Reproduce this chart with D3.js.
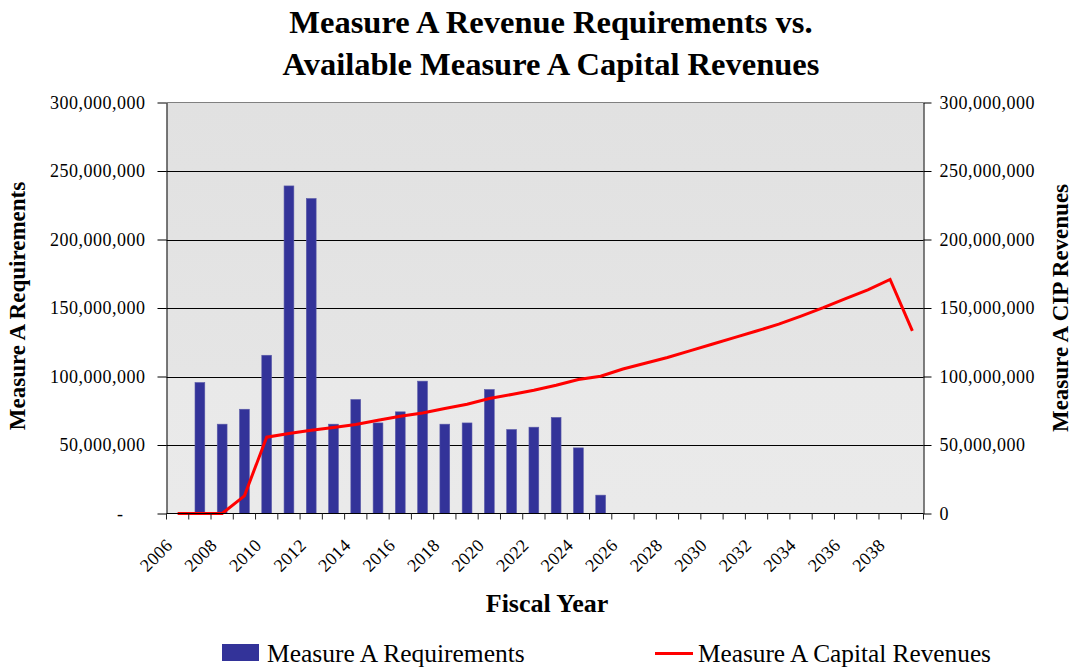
<!DOCTYPE html>
<html>
<head>
<meta charset="utf-8">
<script src="https://cdn.jsdelivr.net/npm/d3@7"></script>
<style>
  html, body { margin: 0; padding: 0; background: #fff; }
  svg { display: block; }
</style>
</head>
<body>
<svg id="chart" width="1072" height="669"></svg>
<script>
// ---------- data ----------
const years = [2006, 2007, 2008, 2009, 2010, 2011, 2012, 2013, 2014, 2015, 2016, 2017,
  2018, 2019, 2020, 2021, 2022, 2023, 2024, 2025, 2026, 2027, 2028, 2029, 2030, 2031,
  2032, 2033, 2034, 2035, 2036, 2037, 2038, 2039];

const xTickLabels = ["2006", "2008", "2010", "2012", "2014", "2016", "2018", "2020", "2022",
  "2024", "2026", "2028", "2030", "2032", "2034", "2036", "2038"];

// Measure A Requirements (bars, left axis)
const requirements = [null, 95600000, 65200000, 76100000, 115500000, 239100000, 229900000,
  65200000, 83200000, 66100000, 74200000, 96600000, 65200000, 66100000, 90500000,
  61300000, 63000000, 70100000, 47900000, 13400000, null, null, null, null, null, null,
  null, null, null, null, null, null, null, null];

// Measure A Capital Revenues (line, right axis)
const capitalRevenues = [0, 0, 0, 12900000, 55700000, 58400000, 60800000, 62800000, 65000000,
  68100000, 71000000, 73400000, 76600000, 79800000, 83900000, 86900000, 90000000, 93600000,
  97800000, 100200000, 105500000, 109700000, 113900000, 118700000, 123500000, 128400000,
  133200000, 138200000, 144100000, 150200000, 156900000, 163300000, 170800000, 133300000];

const yTickValues = [0, 50000000, 100000000, 150000000, 200000000, 250000000, 300000000];
const leftTickLabels = ["-", "50,000,000", "100,000,000", "150,000,000", "200,000,000", "250,000,000", "300,000,000"];
const rightTickLabels = ["0", "50,000,000", "100,000,000", "150,000,000", "200,000,000", "250,000,000", "300,000,000"];

const titleLines = ["Measure A Revenue Requirements vs.", "Available Measure A Capital Revenues"];
const xAxisTitle = "Fiscal Year";
const leftAxisTitle = "Measure A Requirements";
const rightAxisTitle = "Measure A CIP Revenues";
const legendLabels = ["Measure A Requirements", "Measure A Capital Revenues"];

// ---------- layout ----------
const FONT = "'Liberation Serif', 'Times New Roman', serif";
const svg = d3.select("#chart").attr("font-family", FONT);
const plot = { left: 166.5, right: 923.5, top: 102.5, bottom: 513.5 };

const x = d3.scaleBand().domain(years).range([plot.left, plot.right]).padding(0);
const yL = d3.scaleLinear().domain([0, 300000000]).range([plot.bottom, plot.top]);
const yR = d3.scaleLinear().domain([0, 300000000]).range([plot.bottom, plot.top]);

// background gradient
const defs = svg.append("defs");
const grad = defs.append("linearGradient").attr("id", "bg").attr("x1", 0).attr("y1", 0).attr("x2", 0).attr("y2", 1);
grad.append("stop").attr("offset", "0%").attr("stop-color", "#e1e1e1");
grad.append("stop").attr("offset", "66.5%").attr("stop-color", "#e5e5e5");
grad.append("stop").attr("offset", "66.6%").attr("stop-color", "#e9e9e9");
grad.append("stop").attr("offset", "100%").attr("stop-color", "#eaeaea");

svg.append("rect")
  .attr("x", plot.left).attr("y", plot.top)
  .attr("width", plot.right - plot.left).attr("height", plot.bottom - plot.top)
  .attr("fill", "url(#bg)");

// top border
svg.append("line")
  .attr("x1", plot.left).attr("x2", plot.right)
  .attr("y1", plot.top).attr("y2", plot.top)
  .attr("stroke", "#808080").attr("stroke-width", 1);

// gridlines
svg.append("g").selectAll("line")
  .data(yTickValues.filter(v => v > 0 && v < 300000000))
  .join("line")
  .attr("x1", plot.left).attr("x2", plot.right)
  .attr("y1", d => Math.round(yL(d)) + 0.5).attr("y2", d => Math.round(yL(d)) + 0.5)
  .attr("stroke", "#000").attr("stroke-width", 1);

// bars
const barW = x.bandwidth() * 0.44;
svg.append("g").selectAll("rect")
  .data(years.map((yr, i) => ({ yr, v: requirements[i] })).filter(d => d.v != null))
  .join("rect")
  .attr("x", d => x(d.yr) + (x.bandwidth() - barW) / 2)
  .attr("width", barW)
  .attr("y", d => yL(d.v))
  .attr("height", d => yL(0) - yL(d.v))
  .attr("fill", "#333399")
  .attr("stroke", "#5a5aa8")
  .attr("stroke-width", 0.6);

// line
const line = d3.line()
  .x((d, i) => x(years[i]) + x.bandwidth() / 2)
  .y(d => yR(d));
svg.append("path")
  .datum(capitalRevenues)
  .attr("d", line)
  .attr("fill", "none")
  .attr("stroke", "#ff0000")
  .attr("stroke-width", 3)
  .attr("stroke-linejoin", "miter");

// left axis
const leftAxis = d3.axisLeft(yL)
  .tickValues(yTickValues)
  .tickFormat((d, i) => leftTickLabels[i])
  .tickSizeInner(9).tickSizeOuter(0).tickPadding(12);
const gL = svg.append("g").attr("transform", `translate(${plot.left},0)`).call(leftAxis)
  .attr("font-family", FONT);
gL.selectAll("text").style("font-family", FONT).style("font-size", "18px").style("letter-spacing", "0.5px").attr("fill", "#000");
gL.selectAll("text").filter(d => d === 0).attr("dx", -22);
gL.selectAll("line, path").attr("stroke", "#000");

// right axis
const rightAxis = d3.axisRight(yR)
  .tickValues(yTickValues)
  .tickFormat((d, i) => rightTickLabels[i])
  .tickSizeInner(8).tickSizeOuter(0).tickPadding(8);
const gR = svg.append("g").attr("transform", `translate(${plot.right},0)`).call(rightAxis)
  .attr("font-family", FONT);
gR.selectAll("text").style("font-family", FONT).style("font-size", "18px").style("letter-spacing", "0.5px").attr("fill", "#000");
gR.selectAll("line, path").attr("stroke", "#000");

// bottom axis (ticks at category boundaries)
svg.append("line")
  .attr("x1", plot.left).attr("x2", plot.right)
  .attr("y1", plot.bottom).attr("y2", plot.bottom)
  .attr("stroke", "#000").attr("stroke-width", 1.2);
const boundaries = years.map(yr => x(yr)).concat([x.range()[1]]);
svg.append("g").selectAll("line")
  .data(boundaries)
  .join("line")
  .attr("x1", d => d).attr("x2", d => d)
  .attr("y1", plot.bottom).attr("y2", plot.bottom + 6)
  .attr("stroke", "#222").attr("stroke-width", 1);

// x tick labels (rotated)
svg.append("g").selectAll("text")
  .data(xTickLabels)
  .join("text")
  .attr("transform", d => `translate(${x(+d) + x.bandwidth() / 2 - 4},${plot.bottom + 33}) rotate(-45)`)
  .attr("text-anchor", "end")
  .style("font-family", FONT)
  .style("font-size", "18px")
  .style("letter-spacing", "0.3px")
  .text(d => d);

// titles
svg.append("g").selectAll("text")
  .data(titleLines)
  .join("text")
  .attr("x", 551)
  .attr("y", (d, i) => 33 + i * 42)
  .attr("text-anchor", "middle")
  .style("font-family", FONT)
  .style("font-size", "32.5px")
  .style("font-weight", "bold")
  .text(d => d);

svg.append("text")
  .attr("x", 547).attr("y", 612)
  .attr("text-anchor", "middle")
  .style("font-family", FONT)
  .style("font-size", "26px").style("font-weight", "bold")
  .text(xAxisTitle);

svg.append("text")
  .attr("transform", `translate(25,306) rotate(-90)`)
  .attr("text-anchor", "middle")
  .style("font-family", FONT)
  .style("font-size", "23px").style("font-weight", "bold")
  .text(leftAxisTitle);

svg.append("text")
  .attr("transform", `translate(1068,308) rotate(-90)`)
  .attr("text-anchor", "middle")
  .style("font-family", FONT)
  .style("font-size", "23px").style("font-weight", "bold")
  .text(rightAxisTitle);

// legend
const lg = svg.append("g");
lg.append("rect").attr("x", 222).attr("y", 644).attr("width", 37).attr("height", 17).attr("fill", "#333399");
lg.append("text").attr("x", 267).attr("y", 662).style("font-family", FONT).style("font-size", "25.5px").text(legendLabels[0]);
lg.append("line").attr("x1", 655).attr("x2", 693).attr("y1", 653.5).attr("y2", 653.5)
  .attr("stroke", "#ff0000").attr("stroke-width", 3);
lg.append("text").attr("x", 698).attr("y", 662).style("font-family", FONT).style("font-size", "25.3px").text(legendLabels[1]);
</script>
</body>
</html>
